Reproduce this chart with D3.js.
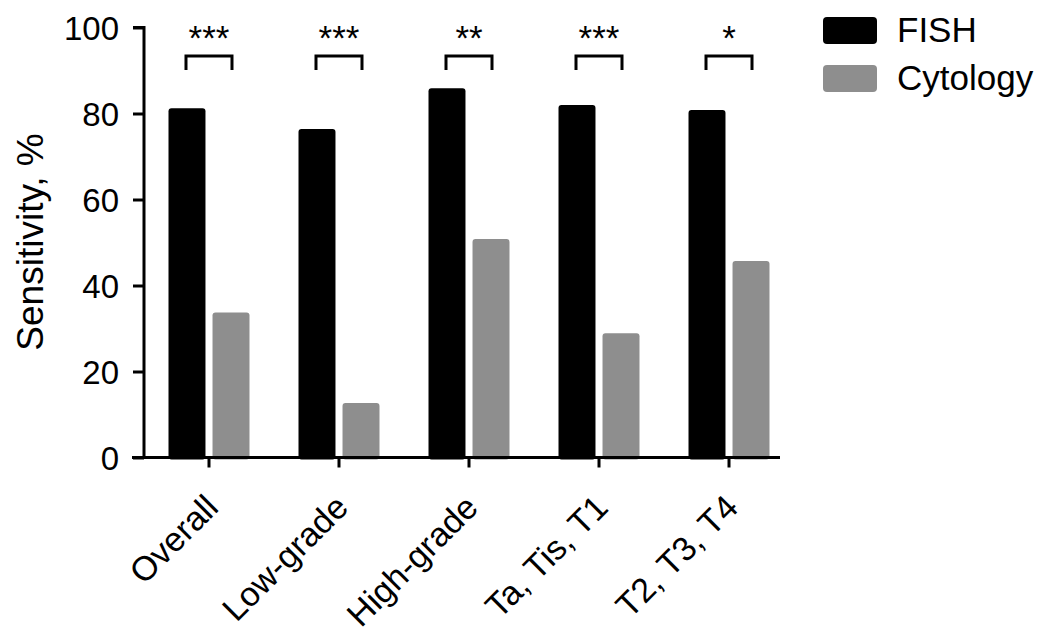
<!DOCTYPE html>
<html><head><meta charset="utf-8">
<script src="https://cdn.jsdelivr.net/npm/d3@7"></script>
<style>body{margin:0;background:#fff}svg{display:block}text{font-family:"Liberation Sans",Arial,sans-serif;fill:#000}</style>
</head><body>
<svg id="c" width="1056" height="644"></svg>
<script>
const categories = ["Overall","Low-grade","High-grade","Ta, Tis, T1","T2, T3, T4"];
const fish = [81.2, 76.4, 85.9, 82.0, 80.8];
const cytology = [33.7, 12.7, 50.8, 28.9, 45.7];
const significance = ["***","***","**","***","*"];
const seriesNames = ["FISH","Cytology"];
const colors = ["#000000","#8e8e8e"];
const yTicks = [0,20,40,60,80,100];

const svg = d3.select("#c");
const y = d3.scaleLinear().domain([0,100]).range([457.5,27.5]);
const x = d3.scaleBand().domain(categories).range([142.5,795.5]).paddingInner(0.377).paddingOuter(0.2);
const sub = d3.scaleBand().domain(seriesNames).range([0,x.bandwidth()]).paddingInner(0.16);

const data = categories.map((c,i)=>({cat:c, vals:[fish[i],cytology[i]]}));

// bars
const g = svg.append("g");
data.forEach(d=>{
  d.vals.forEach((v,j)=>{
    g.append("rect")
      .attr("x", x(d.cat)+sub(seriesNames[j]))
      .attr("y", y(v))
      .attr("width", sub.bandwidth())
      .attr("height", y(0)-y(v)+2)
      .attr("rx",3).attr("ry",3)
      .attr("fill", colors[j]);
  });
});

// y axis
const ya = svg.append("g").attr("transform","translate(144,0)")
  .call(d3.axisLeft(y).tickValues(yTicks).tickSize(11).tickPadding(14));
ya.select(".domain").attr("stroke","#000").attr("stroke-width",3).attr("d","M-11,"+y(100)+"H0V"+y(0));
ya.selectAll(".tick line").attr("stroke","#000").attr("stroke-width",3);
ya.selectAll(".tick text").style("font-size","33px").attr("dy","0.36em").style("font-family","'Liberation Sans',Arial,sans-serif");

// x axis
const xa = svg.append("g").attr("transform","translate(0,"+y(0)+")")
  .call(d3.axisBottom(x).tickSize(10).tickSizeOuter(0));
xa.select(".domain").attr("stroke","#000").attr("stroke-width",3).attr("d","M132,0H780");
xa.selectAll(".tick line").attr("stroke","#000").attr("stroke-width",3);
xa.selectAll(".tick text")
  .style("font-size","34px").style("font-family","'Liberation Sans',Arial,sans-serif")
  .attr("text-anchor","end").attr("dy","0")
  .attr("transform","translate(11,52) rotate(-45)").attr("y",0).attr("x",0);

// y label
svg.append("text").attr("transform","translate(43,242) rotate(-90)")
  .attr("text-anchor","middle").style("font-size","37px").text("Sensitivity, %");

// significance brackets
categories.forEach((c,i)=>{
  const cx = x(c)+x.bandwidth()/2;
  const hw = 23;
  svg.append("path").attr("d",`M${cx-hw},70V56H${cx+hw}V70`)
    .attr("fill","none").attr("stroke","#000").attr("stroke-width",3);
  svg.append("text").attr("x",cx).attr("y",50).attr("text-anchor","middle")
    .style("font-size","35px").text(significance[i]);
});

// legend
seriesNames.forEach((s,i)=>{
  const ly = 17 + i*48;
  svg.append("rect").attr("x",823).attr("y",ly).attr("width",54).attr("height",27)
    .attr("rx",4).attr("fill",colors[i]);
  svg.append("text").attr("x",897).attr("y",ly+25).style("font-size","35px").text(s);
});
</script>
</body></html>
